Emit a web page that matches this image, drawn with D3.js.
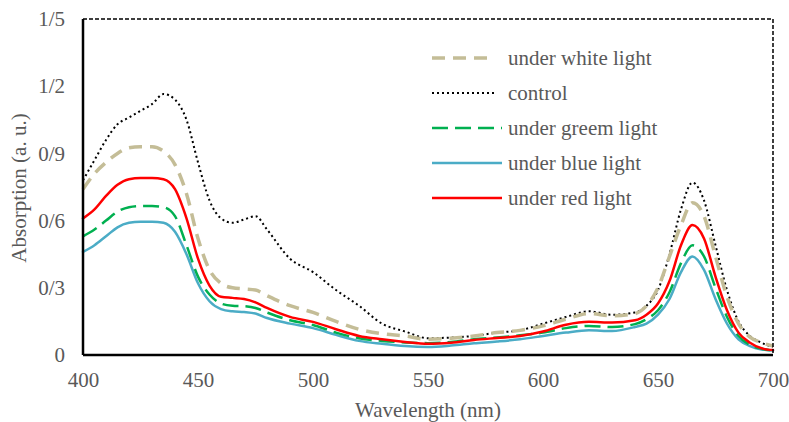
<!DOCTYPE html>
<html>
<head>
<meta charset="utf-8">
<script src="https://cdn.jsdelivr.net/npm/d3@7"></script>
<style>
  html, body { margin: 0; padding: 0; background: #fff; }
  svg { display: block; font-family: "Liberation Serif", "DejaVu Serif", serif; }
</style>
</head>
<body>
<svg id="chart" width="789" height="422"></svg>
<script>
// wavelengths (nm), shared by every series
const wavelength = [400,405,410,415,420,425,430,435,440,445,450,455,460,465,470,475,480,490,500,510,
  520,530,540,550,560,570,580,590,600,610,620,630,640,645,650,655,660,665,670,675,680,685,690,695,700];

const whiteLight = [0.74,0.81,0.86,0.90,0.925,0.93,0.93,0.91,0.85,0.72,0.52,0.38,0.32,0.30,0.295,0.29,0.265,0.22,0.19,0.15,
  0.115,0.095,0.085,0.07,0.075,0.085,0.10,0.11,0.13,0.16,0.185,0.175,0.185,0.22,0.30,0.44,0.58,0.68,0.62,0.44,0.26,0.14,0.08,0.055,0.04];
const control = [0.78,0.87,0.96,1.03,1.06,1.09,1.12,1.165,1.14,1.05,0.86,0.69,0.61,0.59,0.605,0.62,0.56,0.43,0.37,0.29,
  0.22,0.14,0.105,0.075,0.078,0.085,0.10,0.11,0.14,0.17,0.195,0.18,0.19,0.22,0.29,0.45,0.65,0.77,0.69,0.49,0.29,0.15,0.085,0.055,0.035];
const greenLight = [0.53,0.56,0.60,0.64,0.66,0.665,0.665,0.66,0.62,0.49,0.35,0.27,0.23,0.22,0.218,0.21,0.19,0.155,0.134,0.10,
  0.075,0.063,0.056,0.053,0.058,0.07,0.078,0.088,0.10,0.12,0.13,0.125,0.138,0.16,0.20,0.28,0.41,0.49,0.44,0.30,0.17,0.085,0.045,0.028,0.02];
const blueLight = [0.46,0.49,0.53,0.57,0.59,0.595,0.595,0.59,0.55,0.45,0.32,0.24,0.205,0.195,0.192,0.185,0.165,0.14,0.12,0.09,
  0.063,0.05,0.04,0.036,0.042,0.052,0.06,0.07,0.085,0.10,0.11,0.107,0.125,0.14,0.18,0.25,0.37,0.44,0.38,0.25,0.14,0.07,0.04,0.025,0.02];
const redLight = [0.61,0.65,0.71,0.76,0.785,0.79,0.79,0.785,0.74,0.61,0.43,0.31,0.26,0.255,0.25,0.235,0.21,0.17,0.148,0.115,
  0.085,0.07,0.058,0.05,0.055,0.067,0.076,0.085,0.105,0.135,0.148,0.145,0.155,0.18,0.23,0.33,0.49,0.58,0.52,0.35,0.20,0.10,0.055,0.03,0.022];

const xTicks = [400,450,500,550,600,650,700];
const yTicks = [0,0.3,0.6,0.9,1.2,1.5];
const yTickLabels = ['0','0/3','0/6','0/9','1/2','1/5'];

// legend order and line styles
const series = [
  { name: 'under white light', values: whiteLight, color: '#c4bd97', width: 3.5, dash: '13,8', cap: 'butt', legLen: 60 },
  { name: 'control',           values: control,    color: '#000000', width: 2,   dash: '2,3',  cap: 'butt', legLen: 65 },
  { name: 'under greem light', values: greenLight, color: '#00b050', width: 2.5, dash: '16,7', cap: 'butt', legLen: 70 },
  { name: 'under blue light',  values: blueLight,  color: '#4bacc6', width: 2.5, dash: null,   cap: 'round', legLen: 70 },
  { name: 'under red light',   values: redLight,   color: '#ff0000', width: 2.5, dash: null,   cap: 'round', legLen: 70 },
];
const drawOrder = [1, 0, 3, 2, 4];

const svg = d3.select('#chart');
const m = { t: 19, r: 16, b: 67, l: 83 };
const W = 789, H = 422;
const innerW = W - m.l - m.r, innerH = H - m.t - m.b;
const FS = 21;

const x = d3.scaleLinear().domain([400, 700]).range([0, innerW]);
const y = d3.scaleLinear().domain([0, 1.5]).range([innerH, 0]);

const g = svg.append('g').attr('transform', `translate(${m.l},${m.t})`);
const textColor = '#595959';

// series lines
const line = d3.line()
  .x((d, i) => x(wavelength[i]))
  .y(d => y(d))
  .curve(d3.curveMonotoneX);

drawOrder.forEach(idx => {
  const s = series[idx];
  g.append('path').datum(s.values)
    .attr('fill', 'none')
    .attr('stroke', s.color)
    .attr('stroke-width', s.width)
    .attr('stroke-dasharray', s.dash)
    .attr('stroke-linecap', s.cap)
    .attr('stroke-linejoin', 'round')
    .attr('d', line);
});

// plot frame: dashed border, heavier left/bottom axis
g.append('rect').attr('x', 0).attr('y', 0).attr('width', innerW).attr('height', innerH)
  .attr('fill', 'none').attr('stroke', '#000').attr('stroke-width', 1.5).attr('stroke-dasharray', '4,2');
g.append('line').attr('x1', 0).attr('x2', 0).attr('y1', 0).attr('y2', innerH)
  .attr('stroke', '#000').attr('stroke-width', 2.5);
g.append('line').attr('x1', 0).attr('x2', innerW).attr('y1', innerH).attr('y2', innerH)
  .attr('stroke', '#000').attr('stroke-width', 2.5);

// axes (labels only)
const xAxis = g.append('g').attr('transform', `translate(0,${innerH})`)
  .call(d3.axisBottom(x).tickValues(xTicks).tickFormat(d3.format('d')).tickSize(0).tickPadding(17));
xAxis.select('.domain').remove();
xAxis.attr('font-family', null).attr('font-size', null);
xAxis.selectAll('text').attr('font-size', FS).attr('fill', textColor);

const yAxis = g.append('g')
  .call(d3.axisLeft(y).tickValues(yTicks).tickFormat((d, i) => yTickLabels[i]).tickSize(0).tickPadding(18));
yAxis.select('.domain').remove();
yAxis.attr('font-family', null).attr('font-size', null);
yAxis.selectAll('text').attr('font-size', FS).attr('fill', textColor);

// axis titles
svg.append('text').attr('x', 428).attr('y', 417)
  .attr('text-anchor', 'middle').attr('font-size', FS).attr('fill', textColor)
  .text('Wavelength (nm)');
svg.append('text').attr('transform', `translate(26,188) rotate(-90)`)
  .attr('text-anchor', 'middle').attr('font-size', FS).attr('fill', textColor)
  .text('Absorption (a. u.)');

// legend
const legend = svg.append('g').attr('transform', 'translate(432,58)');
series.forEach((s, i) => {
  const row = legend.append('g').attr('transform', `translate(0,${i * 35})`);
  row.append('line').attr('x1', 0).attr('x2', s.legLen).attr('y1', 0).attr('y2', 0)
    .attr('stroke', s.color).attr('stroke-width', s.width)
    .attr('stroke-dasharray', s.dash);
  row.append('text').attr('x', 76).attr('y', 7)
    .attr('font-size', FS).attr('fill', textColor).text(s.name);
});
</script>
</body>
</html>
